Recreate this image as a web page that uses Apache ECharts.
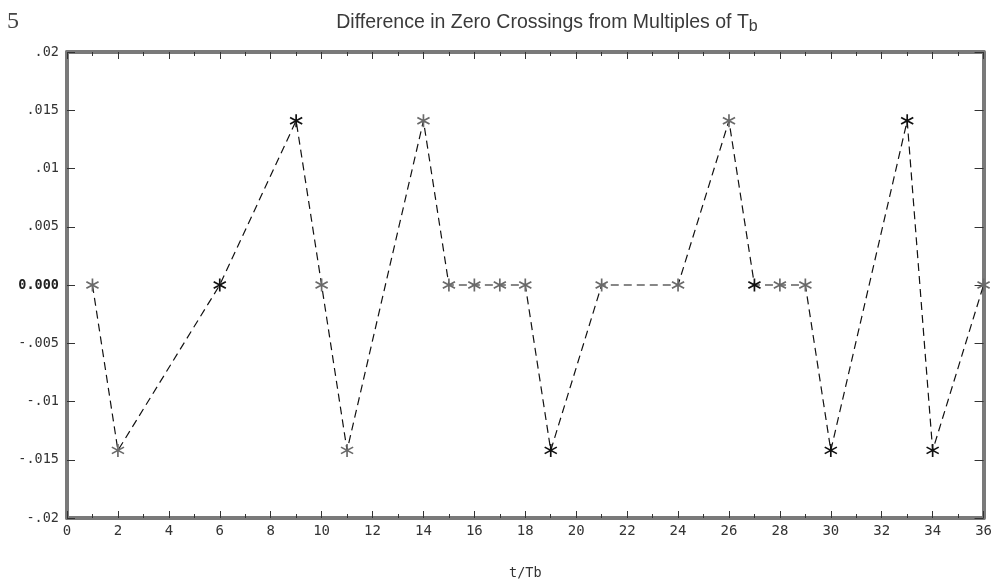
<!DOCTYPE html>
<html>
<head>
<meta charset="utf-8">
<style>
  html, body { margin: 0; padding: 0; background: #fff; }
  #chart { width: 995px; height: 585px; }
</style>
<script src="https://cdn.jsdelivr.net/npm/echarts@6/dist/echarts.min.js"></script>
</head>
<body>
<div id="chart"></div>
<script>
// Sample index t/Tb and the offset of each zero crossing from the nearest multiple of Tb
const tValues = [1, 2, 6, 9, 10, 11, 14, 15, 16, 17, 18, 19, 21, 24, 26, 27, 28, 29, 30, 33, 34, 36];
const crossingDiff = [0, -0.0142, 0, 0.0141, 0, -0.0142, 0.0141, 0, 0, 0, 0, -0.0142, 0, 0, 0.0141, 0, 0, 0, -0.0142, 0.0141, -0.0142, 0];
// Plotter pen used for each marker: 1 = dark, 0 = light
const markerPen = [0, 0, 1, 1, 0, 0, 0, 0, 0, 0, 0, 1, 0, 0, 0, 1, 0, 0, 1, 1, 1, 0];
// Y tick labels from bottom to top
const yTickLabels = ['-.02', '-.015', '-.01', '-.005', '0.000', '.005', '.01', '.015', '.02'];

// Six-armed asterisk made of three crossed bars
function asteriskPath() {
  const L = 10, w = 1.2;
  let d = '';
  [90, 30, -30].forEach(function (deg) {
    const a = deg * Math.PI / 180;
    const ux = Math.cos(a), uy = Math.sin(a);
    const px = -uy * w, py = ux * w;
    const pts = [
      [ux * L + px, uy * L + py],
      [-ux * L + px, -uy * L + py],
      [-ux * L - px, -uy * L - py],
      [ux * L - px, uy * L - py]
    ];
    d += 'M' + pts.map(function (p) { return p[0].toFixed(2) + ',' + p[1].toFixed(2); }).join('L') + 'Z';
  });
  return 'path://' + d;
}
const star = asteriskPath();

const points = tValues.map(function (t, i) {
  return {
    value: [t, crossingDiff[i]],
    itemStyle: { color: markerPen[i] ? '#111' : '#6a6a6a' }
  };
});

const frameColor = '#7a7a7a';
const monoFont = '"DejaVu Sans Mono", "Liberation Mono", monospace';

const chart = echarts.init(document.getElementById('chart'), null, { renderer: 'canvas' });
chart.setOption({
  animation: false,
  backgroundColor: '#fff',
  title: {
    text: 'Difference in Zero Crossings from Multiples of T{sub|b}',
    left: 542,
    textAlign: 'center',
    top: 5,
    textStyle: {
      fontFamily: '"Liberation Sans", Arial, sans-serif',
      fontSize: 19.5,
      fontWeight: 'normal',
      color: '#3a3a3a',
      rich: {
        sub: {
          fontFamily: '"Liberation Sans", Arial, sans-serif',
          fontSize: 16,
          color: '#3a3a3a',
          verticalAlign: 'bottom',
          padding: [9, 0, 0, 0]
        }
      }
    }
  },
  graphic: [{
    type: 'text',
    left: 7,
    top: 10,
    style: {
      text: '5',
      font: '24px "Liberation Serif", "DejaVu Serif", serif',
      fill: '#444'
    }
  }],
  grid: { left: 67, right: 9, top: 52, bottom: 60 },
  xAxis: [{
    type: 'value',
    min: 0,
    max: 36,
    interval: 2,
    position: 'bottom',
    name: 't/Tb',
    nameLocation: 'middle',
    nameGap: 48,
    nameTextStyle: { fontFamily: monoFont, fontSize: 13.5, color: '#333' },
    axisLine: { show: true, onZero: false, lineStyle: { color: frameColor, width: 4 } },
    axisTick: { show: true, inside: true, length: 7, lineStyle: { color: '#333', width: 1 } },
    minorTick: { show: true, splitNumber: 2, length: 4, lineStyle: { color: '#333', width: 1 } },
    axisLabel: { fontFamily: monoFont, fontSize: 14, color: '#333', margin: 6 },
    splitLine: { show: false }
  }, {
    type: 'value',
    min: 0,
    max: 36,
    interval: 2,
    position: 'top',
    axisLine: { show: true, onZero: false, lineStyle: { color: frameColor, width: 4 } },
    axisTick: { show: true, inside: true, length: 7, lineStyle: { color: '#333', width: 1 } },
    minorTick: { show: true, splitNumber: 2, length: 4, lineStyle: { color: '#333', width: 1 } },
    axisLabel: { show: false },
    splitLine: { show: false }
  }],
  yAxis: [{
    type: 'value',
    min: -0.02,
    max: 0.02,
    interval: 0.005,
    position: 'left',
    axisLine: { show: true, onZero: false, lineStyle: { color: frameColor, width: 4 } },
    axisTick: { show: true, inside: true, length: 8, lineStyle: { color: '#333', width: 1 } },
    axisLabel: {
      margin: 8,
      fontFamily: monoFont,
      fontSize: 13.5,
      color: '#333',
      formatter: function (v, i) {
        const s = yTickLabels[i];
        return s === '0.000' ? '{z|' + s + '}' : s;
      },
      rich: { z: { fontFamily: monoFont, fontSize: 13.5, fontWeight: 'bold', color: '#222' } }
    },
    splitLine: { show: false }
  }, {
    type: 'value',
    min: -0.02,
    max: 0.02,
    interval: 0.005,
    position: 'right',
    axisLine: { show: true, onZero: false, lineStyle: { color: frameColor, width: 4 } },
    axisTick: { show: true, inside: true, length: 9, lineStyle: { color: '#333', width: 1 } },
    axisLabel: { show: false },
    splitLine: { show: false }
  }],
  series: [{
    type: 'line',
    xAxisIndex: 0,
    yAxisIndex: 0,
    data: points,
    symbol: star,
    symbolSize: 13,
    lineStyle: { color: '#111', width: 1.2, type: [8, 5] },
    z: 3
  }]
});
</script>
</body>
</html>
